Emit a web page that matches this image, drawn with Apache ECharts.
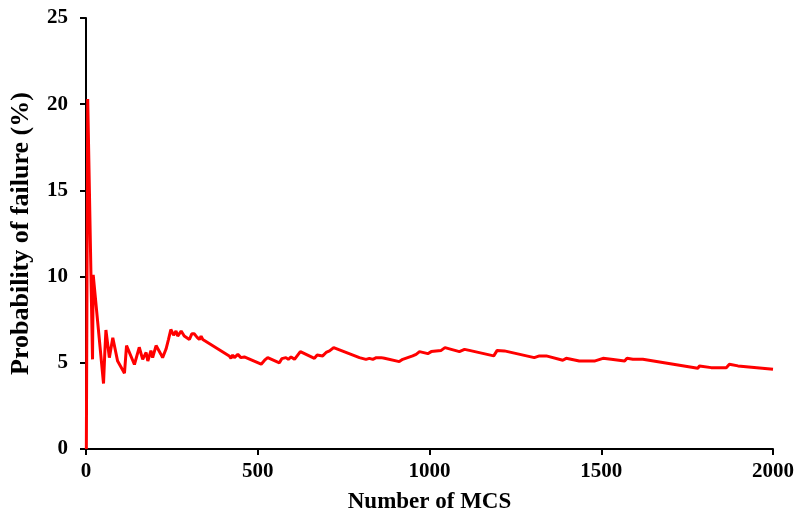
<!DOCTYPE html>
<html>
<head>
<meta charset="utf-8">
<script src="https://cdn.jsdelivr.net/npm/echarts@6/dist/echarts.min.js"></script>
<style>
  html, body { margin: 0; padding: 0; background: #fff; }
  #chart { width: 797px; height: 519px; }
</style>
</head>
<body>
<div id="chart"></div>
<script>
// Number of Monte Carlo simulations (x) and running failure probability in % (y)
const mcsCount = [
  1, 5, 19, 21, 51, 55, 58, 68, 78, 92, 112, 118, 141, 155, 165, 175, 180, 189, 194, 204,
  218, 223, 233, 240, 247, 255, 262, 267, 277, 286, 301, 308, 315, 323, 330, 335, 340,
  417, 422, 427, 432, 442, 451, 461, 471, 510, 520, 529, 563, 570, 582, 589, 597, 607,
  624, 665, 673, 689, 699, 709, 721, 796, 815, 825, 835, 845, 859, 869, 912, 922, 951,
  961, 971, 995, 1005, 1019, 1034, 1045, 1087, 1102, 1116, 1187, 1197, 1218, 1305, 1320,
  1340, 1388, 1398, 1436, 1480, 1505, 1529, 1568, 1575, 1592, 1621, 1781, 1786, 1820,
  1864, 1873, 1898, 2000
];
const failureProb = [
  0, 20.3, 5.2, 10.1, 3.8, 5.7, 6.9, 5.3, 6.45, 5.1, 4.4, 6.0, 4.9, 5.9, 5.2, 5.6, 5.1, 5.7, 5.3, 6.0,
  5.5, 5.3, 5.8, 6.35, 6.93, 6.6, 6.84, 6.55, 6.84, 6.55, 6.35, 6.68, 6.68, 6.49, 6.35, 6.55, 6.35,
  5.4, 5.26, 5.45, 5.3, 5.49, 5.3, 5.34, 5.26, 4.92, 5.15, 5.3, 5.0, 5.24, 5.3, 5.2, 5.34, 5.2,
  5.65, 5.26, 5.45, 5.4, 5.6, 5.69, 5.88, 5.3, 5.2, 5.26, 5.2, 5.3, 5.3, 5.26, 5.07, 5.2, 5.4,
  5.49, 5.65, 5.53, 5.65, 5.69, 5.72, 5.88, 5.65, 5.78, 5.72, 5.4, 5.72, 5.69, 5.3, 5.4,
  5.4, 5.15, 5.26, 5.1, 5.1, 5.26, 5.2, 5.1, 5.26, 5.2, 5.2, 4.68, 4.82, 4.72,
  4.72, 4.92, 4.82, 4.62
];
const xTicks = { min: 0, max: 2000, step: 500 };
const yTicks = { min: 0, max: 25, step: 5 };

const seriesData = mcsCount.map((n, i) => [n, failureProb[i]]);

const textFont = {
  fontFamily: '"Liberation Serif", "Times New Roman", serif',
  fontWeight: 'bold',
  color: '#000'
};

const axisCommon = {
  type: 'value',
  nameLocation: 'middle',
  axisLine: { show: true, lineStyle: { color: '#000', width: 2 } },
  axisTick: { show: true, inside: false, length: 6, lineStyle: { color: '#000', width: 2 } },
  axisLabel: Object.assign({ fontSize: 21, formatter: v => String(v) }, textFont),
  splitLine: { show: false }
};

const chart = echarts.init(document.getElementById('chart'), null, { renderer: 'canvas' });
chart.setOption({
  backgroundColor: '#fff',
  animation: false,
  grid: { left: 85, right: 24, top: 18, bottom: 67, containLabel: false },
  xAxis: Object.assign({}, axisCommon, {
    name: 'Number of MCS',
    nameGap: 42,
    nameTextStyle: Object.assign({ fontSize: 23 }, textFont),
    min: xTicks.min, max: xTicks.max, interval: xTicks.step,
    axisLabel: Object.assign({}, axisCommon.axisLabel, { margin: 12 })
  }),
  yAxis: Object.assign({}, axisCommon, {
    name: 'Probability of failure (%)',
    nameGap: 52,
    nameTextStyle: Object.assign({ fontSize: 26 }, textFont),
    min: yTicks.min, max: yTicks.max, interval: yTicks.step,
    axisLabel: Object.assign({}, axisCommon.axisLabel, { margin: 18 })
  }),
  series: [{
    type: 'line',
    data: seriesData,
    showSymbol: false,
    symbol: 'none',
    lineStyle: { color: '#ff0000', width: 3 },
    z: 3
  }]
});
</script>
</body>
</html>
